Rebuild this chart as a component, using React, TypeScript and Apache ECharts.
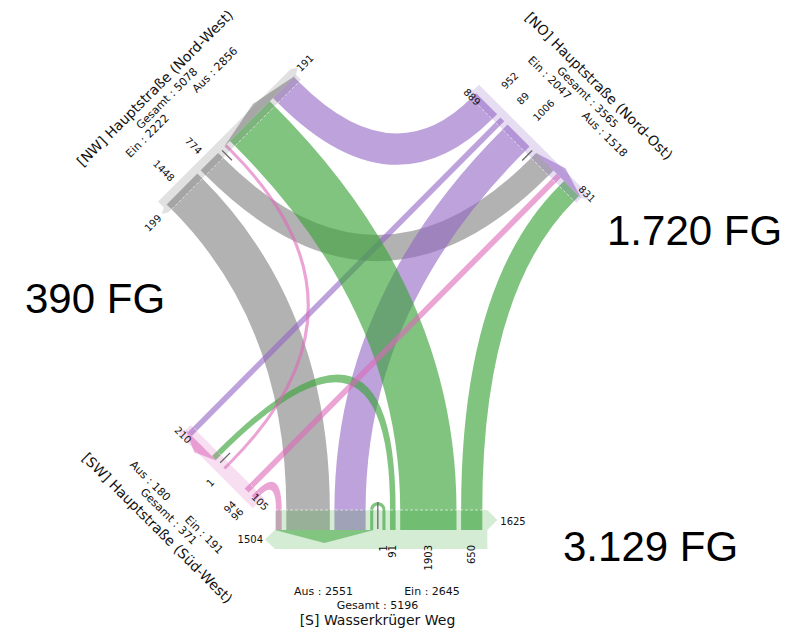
import React, { useEffect, useRef } from 'react';
import * as echarts from 'echarts';

// ---------------- data ----------------
const armIds = ['NW', 'NO', 'S', 'SW']; // clockwise order
const armTitles = ['[NW] Hauptstraße (Nord-West)', '[NO] Hauptstraße (Nord-Ost)', '[S] Wasserkrüger Weg', '[SW] Hauptstraße (Süd-West)'];
const armEin = [2222, 2047, 2645, 191];
const armAus = [2856, 1518, 2551, 180];
const armGesamt = [5078, 3565, 5196, 371];
const fgStart = [191, 831, 1504, 210];
const fgEnd = [199, 889, 1625, 105];
const fgTotalLabels = ['390 FG', '1.720 FG', '3.129 FG'];

const flowFrom = ['NW', 'NW', 'NO', 'NO', 'NO', 'S', 'S', 'S', 'S', 'SW', 'SW', 'SW'];
const flowTo = ['NO', 'S', 'NW', 'S', 'SW', 'NW', 'NO', 'SW', 'S', 'NW', 'NO', 'S'];
const flowValues = [774, 1448, 952, 1006, 89, 1903, 650, 91, 1, 1, 94, 96];

// ---------------- layout / style ----------------
const W = 791, H = 630;
const S2 = Math.SQRT1_2;
const ARM_RGB = ['120,120,120', '145,100,195', '60,165,60', '220,105,185'];
const RIBBON_ALPHA = [0.57, 0.6, 0.65, 0.6];
const BAND_ALPHA = 0.22;
const TRI_ALPHA = 0.55;
const GAP = 4.6;
const SMALL_FONT = 'DejaVu Sans';

type Geo = {
  o: number[]; u: number[]; n: number[]; bw: number; ow: number; td: number; tl: number;
  padS: number; padE: number; labelOff: number; gaps: number[] | null;
  startLbl: [number, number, string]; endLbl: [number, number, string];
};
const ARM_GEOM: Geo[] = [
  { o: [294, 77], u: [-S2, S2], n: [S2, S2], bw: 7, ow: 8, td: 10, tl: 6, padS: 3, padE: 4, labelOff: 13, gaps: null,
    startLbl: [-17.7, -2, 'center'], endLbl: [22.8, 3.5, 'center'] },
  { o: [579, 196], u: [-S2, -S2], n: [-S2, S2], bw: 7, ow: 8, td: 10, tl: 6, padS: 3, padE: 4, labelOff: 23, gaps: null,
    startLbl: [-4.2, -7.1, 'center'], endLbl: [0.3, 5.7, 'center'] },
  { o: [276, 530], u: [1, 0], n: [0, -1], bw: 20, ow: 19, td: 13, tl: 10, padS: 1, padE: 5, labelOff: 15, gaps: null,
    startLbl: [-13, -9.5, 'right'], endLbl: [18, 9, 'left'] },
  { o: [188, 432], u: [S2, S2], n: [S2, -S2], bw: 7, ow: 8, td: 10, tl: 6, padS: 3, padE: 4, labelOff: 17, gaps: [28.5, 5, 5.5, 27, 4.4],
    startLbl: [-1.4, -5.7, 'center'], endLbl: [4.7, 1.4, 'center'] },
];
const ARM_TEXT = [
  { rot: 45, title: [155, 88], gesamt: [167, 98.5], ein: [147.5, 136], aus: [215, 70] },
  { rot: -45, title: [599, 86], gesamt: [587.5, 97.5], ein: [549.5, 78], aus: [604.5, 134.5] },
  { rot: 0, title: [377.5, 620], gesamt: [377.5, 605], ein: [432, 591], aus: [323.5, 591] },
  { rot: -45, title: [157.5, 528], gesamt: [168.5, 516.5], ein: [204, 535], aus: [150, 481] },
];
const FG_POS = [[25, 298.5], [607, 230.5], [563, 546.5]];

const flowWidth = (v: number) => 3 + 0.028 * v;

type Seg = { s1: number; s2: number };
function computeLayout() {
  const n = armIds.length;
  const outSeg: Seg[] = flowValues.map(() => ({ s1: 0, s2: 0 }));
  const inSeg: Seg[] = flowValues.map(() => ({ s1: 0, s2: 0 }));
  const tickPos: number[] = [];
  const lengths: number[] = [];
  for (let i = 0; i < n; i++) {
    const seq: any[] = [];
    for (const k of [1, 2, 3, 0]) {
      const j = (i + k) % n;
      flowValues.forEach((v, f) => { if (v > 0 && flowFrom[f] === armIds[j] && flowTo[f] === armIds[i]) seq.push({ f, side: 'in' }); });
    }
    seq.push({ tick: true });
    for (const k of [0, 1, 2, 3]) {
      const j = (i + k) % n;
      flowValues.forEach((v, f) => { if (v > 0 && flowFrom[f] === armIds[i] && flowTo[f] === armIds[j]) seq.push({ f, side: 'out' }); });
    }
    const gaps = ARM_GEOM[i].gaps;
    let pos = 0;
    seq.forEach((e, idx) => {
      if (idx > 0) pos += gaps ? gaps[idx - 1] : GAP;
      if (e.tick) { tickPos[i] = pos; return; }
      const w = flowWidth(flowValues[e.f]);
      const seg = { s1: pos, s2: pos + w };
      if (e.side === 'in') inSeg[e.f] = seg; else outSeg[e.f] = seg;
      pos += w;
    });
    lengths[i] = pos;
  }
  return { outSeg, inSeg, tickPos, lengths };
}
const LAY = computeLayout();

const add = (a: number[], b: number[]) => [a[0] + b[0], a[1] + b[1]];
const mul = (a: number[], k: number) => [a[0] * k, a[1] * k];
function armPt(i: number, s: number, c = 0) {
  const g = ARM_GEOM[i];
  return [g.o[0] + g.u[0] * s + g.n[0] * c, g.o[1] + g.u[1] * s + g.n[1] * c];
}
function upright(d: number[]) {
  if (d[0] > 1e-6 || (Math.abs(d[0]) <= 1e-6 && d[1] < 0)) return d;
  return [-d[0], -d[1]];
}
const rotOf = (d: number[]) => Math.atan2(-d[1], d[0]);

function curveSeg(P: number[], nP: number[], Q: number[], nQ: number[], px: (p: number[]) => string) {
  const cr = nP[0] * nQ[1] - nP[1] * nQ[0];
  const dot = nP[0] * nQ[0] + nP[1] * nQ[1];
  const dx = Q[0] - P[0], dy = Q[1] - P[1];
  const d = Math.hypot(dx, dy);
  if (Math.abs(cr) < 1e-3) {
    if (dot > 0) {
      const c = 0.667 * d;
      return `C${px(add(P, mul(nP, c)))} ${px(add(Q, mul(nQ, c)))} ${px(Q)}`;
    }
    return `L${px(Q)}`;
  }
  const t = (dx * nQ[1] - dy * nQ[0]) / cr;
  const r = (dx * nP[1] - dy * nP[0]) / cr;
  if (t > 0 && r > 0) return `Q${px(add(P, mul(nP, t)))} ${px(Q)}`;
  const c = 0.4 * d;
  return `C${px(add(P, mul(nP, c)))} ${px(add(Q, mul(nQ, c)))} ${px(Q)}`;
}

function App() {
  const ref = useRef<HTMLDivElement>(null);
  useEffect(() => {
    if (!ref.current) return;
    const chart = echarts.init(ref.current, null, { renderer: 'svg' });
    const armIndex = (id: string) => armIds.indexOf(id);
    const mk = (api: any) => (p: number[]) => api.coord(p);
    const mkS = (api: any) => (p: number[]) => { const q = api.coord(p); return `${q[0].toFixed(2)} ${q[1].toFixed(2)}`; };
    const rgba = (i: number, a: number) => `rgba(${ARM_RGB[i]},${a})`;
    const txt = (pos: number[], text: string, rot: number, size: number, align: string, family = SMALL_FONT, fill = '#111') => ({
      type: 'text', x: pos[0], y: pos[1], rotation: rot,
      style: { text, fill, fontSize: size, fontFamily: family, align, verticalAlign: 'middle' },
    });

    const underSeries = {
      type: 'custom', z: 1, silent: true, clip: false,
      data: armIds.map((_, i) => [i, 0]),
      renderItem: (params: any, api: any) => {
        const i = params.dataIndex; const g = ARM_GEOM[i]; const P = mk(api);
        const L = LAY.lengths[i]; const sA = -g.padS, sB = L + g.padE;
        const tEnd = LAY.tickPos[i] - 4;
        const poly = (pts: number[][], fill: string) => ({ type: 'polygon', shape: { points: pts.map(P) }, style: { fill } });
        return {
          type: 'group', children: [
            poly([armPt(i, sA, 0), armPt(i, sB, 0), armPt(i, sB, -g.ow), armPt(i, sA, -g.ow)], rgba(i, BAND_ALPHA)),
            poly([armPt(i, sA, 0), armPt(i, tEnd, 0), armPt(i, (sA + tEnd) / 2, -g.td)], rgba(i, TRI_ALPHA)),
            poly([armPt(i, sA, 0), armPt(i, sA, -g.ow), armPt(i, sA - g.tl, -g.ow / 2)], rgba(i, BAND_ALPHA)),
            poly([armPt(i, sB, 0), armPt(i, sB, g.bw), armPt(i, sB + g.tl, g.bw / 2)], rgba(i, BAND_ALPHA)),
          ],
        };
      },
    };

    const ribbonSeries = {
      type: 'custom', z: 2, silent: true, clip: false,
      data: flowValues.map((v, f) => [f, v]),
      renderItem: (params: any, api: any) => {
        const f = params.dataIndex;
        if (flowValues[f] <= 0) return { type: 'group', children: [] };
        const a = armIndex(flowFrom[f]); const b = armIndex(flowTo[f]);
        const ga = ARM_GEOM[a], gb = ARM_GEOM[b];
        const { s1, s2 } = LAY.outSeg[f]; const { s1: t1, s2: t2 } = LAY.inSeg[f];
        const px = mkS(api);
        const iA1 = armPt(a, s1, ga.bw), iA2 = armPt(a, s2, ga.bw);
        const iB1 = armPt(b, t1, gb.bw), iB2 = armPt(b, t2, gb.bw);
        const d = `M${px(armPt(a, s1, 0))} L${px(iA1)} ` +
          curveSeg(iA1, ga.n, iB2, gb.n, px) +
          ` L${px(armPt(b, t2, 0))} L${px(armPt(b, t1, 0))} L${px(iB1)} ` +
          curveSeg(iB1, gb.n, iA2, ga.n, px) +
          ` L${px(armPt(a, s2, 0))} Z`;
        return { type: 'path', shape: { pathData: d }, style: { fill: rgba(a, RIBBON_ALPHA[a]) } };
      },
    };

    const overSeries = {
      type: 'custom', z: 3, silent: true, clip: false,
      data: armIds.map((_, i) => [i, 0]),
      renderItem: (params: any, api: any) => {
        const i = params.dataIndex; const g = ARM_GEOM[i]; const P = mk(api);
        const L = LAY.lengths[i]; const sA = -g.padS, sB = L + g.padE;
        const children: any[] = [];
        children.push({ type: 'polygon', shape: { points: [armPt(i, sA, 0), armPt(i, sB, 0), armPt(i, sB, g.bw), armPt(i, sA, g.bw)].map(P) }, style: { fill: rgba(i, BAND_ALPHA) } });
        const l1 = P(armPt(i, sA, g.bw)), l2 = P(armPt(i, sB, g.bw));
        children.push({ type: 'line', shape: { x1: l1[0], y1: l1[1], x2: l2[0], y2: l2[1] }, style: { stroke: 'rgba(255,255,255,0.6)', lineWidth: 1, lineDash: [3, 2] } });
        const tp = LAY.tickPos[i];
        const k1 = P(armPt(i, tp, 1)), k2 = P(armPt(i, tp, g.bw + 8));
        children.push({ type: 'line', shape: { x1: k1[0], y1: k1[1], x2: k2[0], y2: k2[1] }, style: { stroke: '#666', lineWidth: 1.3 } });
        const dn = upright(g.n);
        const alignN = dn[0] * g.n[0] + dn[1] * g.n[1] > 0 ? 'right' : 'left';
        flowValues.forEach((v, f) => {
          if (v <= 0 || flowFrom[f] !== armIds[i]) return;
          const s = (LAY.outSeg[f].s1 + LAY.outSeg[f].s2) / 2;
          children.push(txt(P(armPt(i, s, -g.labelOff)), String(v), rotOf(dn), 10, alignN));
        });
        const du = upright(g.u);
        children.push(txt(P(armPt(i, g.startLbl[0], g.startLbl[1])), String(fgStart[i]), rotOf(du), 10, g.startLbl[2]));
        children.push(txt(P(armPt(i, L + g.endLbl[0], g.endLbl[1])), String(fgEnd[i]), rotOf(du), 10, g.endLbl[2]));
        return { type: 'group', children };
      },
    };

    const textSeries = {
      type: 'custom', z: 4, silent: true, clip: false,
      data: armIds.map((_, i) => [i, 0]),
      renderItem: (params: any, api: any) => {
        const i = params.dataIndex; const t = ARM_TEXT[i]; const P = mk(api);
        const r = (t.rot * Math.PI) / 180;
        const children: any[] = [
          txt(P(t.title), armTitles[i], r, 14, 'center'),
          txt(P(t.gesamt), `Gesamt : ${armGesamt[i]}`, r, 11, 'center'),
          txt(P(t.ein), `Ein : ${armEin[i]}`, r, 11, 'center'),
          txt(P(t.aus), `Aus : ${armAus[i]}`, r, 11, 'center'),
        ];
        if (i < fgTotalLabels.length) {
          children.push(txt(P(FG_POS[i]), fgTotalLabels[i], 0, 42, 'left', 'Liberation Sans', '#000'));
        }
        return { type: 'group', children };
      },
    };

    chart.setOption({
      animation: false,
      backgroundColor: '#ffffff',
      grid: { left: 0, right: 0, top: 0, bottom: 0 },
      xAxis: { type: 'value', min: 0, max: W, show: false },
      yAxis: { type: 'value', min: 0, max: H, inverse: true, show: false },
      series: [underSeries, ribbonSeries, overSeries, textSeries] as any,
    });
    return () => chart.dispose();
  }, []);
  return <div ref={ref} style={{ position: 'fixed', left: 0, top: 0, width: W, height: H, background: '#fff' }} />;
}

export default App;
